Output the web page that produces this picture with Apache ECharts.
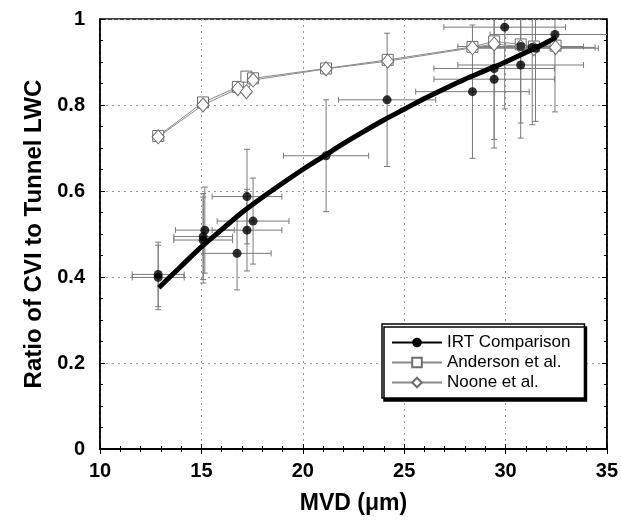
<!DOCTYPE html>
<html><head><meta charset="utf-8">
<script src="https://cdn.jsdelivr.net/npm/echarts@6/dist/echarts.min.js"></script>
<style>html,body{margin:0;padding:0;background:#fff}#c{width:621px;height:520px}</style>
</head><body><div id="c"></div>
<script>
// IRT comparison measurements (MVD, ratio) with error half-widths
const irtX    = [12.87, 12.87, 15.17, 15.09, 15.09, 16.76, 17.25, 17.25, 17.55, 21.15, 24.16, 28.37, 29.44, 29.44, 29.96, 30.75, 30.75, 31.32, 31.48, 32.44];
const irtY    = [0.406, 0.399, 0.509, 0.494, 0.486, 0.455, 0.587, 0.509, 0.530, 0.682, 0.812, 0.831, 0.885, 0.860, 0.981, 0.936, 0.893, 0.934, 0.932, 0.964];
const irtXErr = [1.28, 1.28, 1.45, 1.45, 1.45, 1.68, 1.72, 1.72, 1.77, 2.1, 2.4, 2.8, 2.97, 2.97, 3.0, 3.1, 3.1, 3.1, 3.1, 3.2];
const irtYErr = [0.075, 0.075, 0.10, 0.10, 0.10, 0.085, 0.11, 0.095, 0.10, 0.13, 0.155, 0.155, 0.185, 0.14, 0.19, 0.178, 0.17, 0.18, 0.17, 0.18];

// Fitted IRT curve
const fitX = [12.9, 14, 15, 16, 17, 18, 19, 20, 21, 22, 23, 24, 25, 26, 27, 28, 29, 30, 31, 32, 32.5];
const fitY = [0.375, 0.425, 0.47, 0.51, 0.55, 0.585, 0.618, 0.65, 0.68, 0.71, 0.738, 0.765, 0.79, 0.815, 0.838, 0.86, 0.88, 0.90, 0.922, 0.945, 0.958];

// Anderson et al.
const andersonX = [12.87, 15.08, 16.8, 17.22, 17.55, 21.15, 24.19, 28.37, 29.44, 30.75, 31.4, 32.47];
const andersonY = [0.728, 0.806, 0.842, 0.866, 0.862, 0.885, 0.905, 0.935, 0.948, 0.941, 0.936, 0.938];
// Noone et al.
const nooneX = [12.87, 15.08, 16.8, 17.22, 17.55, 21.15, 24.19, 28.37, 29.44, 30.75, 31.4, 32.47];
const nooneY = [0.726, 0.800, 0.838, 0.831, 0.858, 0.884, 0.902, 0.933, 0.942, 0.936, 0.931, 0.934];

const xTicks = [10, 15, 20, 25, 30, 35];
const yTicks = [0, 0.2, 0.4, 0.6, 0.8, 1];

const legendNames = ['IRT Comparison', 'Anderson et al.', 'Noone et al.'];
const xTitle = 'MVD (\u03bcm)';
const yTitle = 'Ratio of CVI to Tunnel LWC';

const FONT = "'Liberation Sans', Arial, Helvetica, sans-serif";
const zip = (a, b) => a.map((v, i) => [v, b[i]]);

const chart = echarts.init(document.getElementById('c'), null, {renderer: 'canvas'});

const axisCommon = {
  axisLine: {show: true, lineStyle: {color: '#000', width: 1.5}},
  axisTick: {show: true, inside: true, length: 5, lineStyle: {color: '#000', width: 1}},
  minorTick: {show: true, length: 3, lineStyle: {color: '#000', width: 1}},
};

const option = {
  animation: false,
  backgroundColor: '#fff',
  grid: {left: 100, right: 13, top: 19, bottom: 71, show: true, borderColor: '#000', borderWidth: 1.5, backgroundColor: 'transparent'},
  xAxis: [
    Object.assign({
      type: 'value', min: xTicks[0], max: xTicks[xTicks.length - 1], interval: 5, position: 'bottom',
      name: xTitle, nameLocation: 'middle', nameGap: 43,
      nameTextStyle: {fontFamily: FONT, fontWeight: 'bold', fontSize: 23, color: '#000'},
      axisLabel: {fontFamily: FONT, fontWeight: 'bold', fontSize: 20, color: '#000', margin: 12},
      splitLine: {show: true, lineStyle: {color: '#9a9a9a', type: [2, 4], width: 1}},
    }, axisCommon, {minorTick: Object.assign({}, axisCommon.minorTick, {splitNumber: 5})}),
    Object.assign({
      type: 'value', min: xTicks[0], max: xTicks[xTicks.length - 1], interval: 5, position: 'top',
      axisLabel: {show: false}, splitLine: {show: false},
    }, axisCommon, {minorTick: Object.assign({}, axisCommon.minorTick, {splitNumber: 5})})
  ],
  yAxis: [
    Object.assign({
      type: 'value', min: yTicks[0], max: yTicks[yTicks.length - 1], interval: 0.2, position: 'left',
      name: yTitle, nameLocation: 'middle', nameGap: 48,
      nameTextStyle: {fontFamily: FONT, fontWeight: 'bold', fontSize: 24, color: '#000'},
      axisLabel: {fontFamily: FONT, fontWeight: 'bold', fontSize: 20, color: '#000', margin: 15},
      splitLine: {show: true, lineStyle: {color: '#9a9a9a', type: [2, 4], width: 1}},
    }, axisCommon, {minorTick: Object.assign({}, axisCommon.minorTick, {splitNumber: 4})}),
    Object.assign({
      type: 'value', min: yTicks[0], max: yTicks[yTicks.length - 1], interval: 0.2, position: 'right',
      axisLabel: {show: false}, splitLine: {show: false},
    }, axisCommon, {minorTick: Object.assign({}, axisCommon.minorTick, {splitNumber: 4})})
  ],
  legend: {
    data: legendNames,
    orient: 'vertical', left: 382, top: 324,
    itemWidth: 50, itemHeight: 12, itemGap: 3,
    padding: [10, 14, 7, 9],
    backgroundColor: '#fff', borderColor: '#000', borderWidth: 1.5, borderRadius: 0,
    shadowColor: '#000', shadowOffsetX: 2, shadowOffsetY: 3, shadowBlur: 0,
    selectedMode: false,
    textStyle: {fontFamily: FONT, fontSize: 17, color: '#000'}
  },
  series: [
    {
      name: 'IRT error bars', type: 'custom', clip: true, z: 1,
      xAxisIndex: 0, yAxisIndex: 0,
      data: irtX.map((x, i) => [x, irtY[i], irtXErr[i], irtYErr[i]]),
      renderItem: function (params, api) {
        const x = api.value(0), y = api.value(1), ex = api.value(2), ey = api.value(3);
        const c = api.coord([x, y]);
        const l = api.coord([x - ex, y]), r = api.coord([x + ex, y]);
        const t = api.coord([x, y + ey]), b = api.coord([x, y - ey]);
        const cap = 3;
        const st = {stroke: '#7a7a7a', lineWidth: 1};
        const ln = (x1, y1, x2, y2) => ({type: 'line', shape: {x1, y1, x2, y2}, style: st});
        return {type: 'group', children: [
          ln(l[0], c[1], r[0], c[1]),
          ln(l[0], c[1] - cap, l[0], c[1] + cap),
          ln(r[0], c[1] - cap, r[0], c[1] + cap),
          ln(c[0], t[1], c[0], b[1]),
          ln(c[0] - cap, t[1], c[0] + cap, t[1]),
          ln(c[0] - cap, b[1], c[0] + cap, b[1])
        ]};
      }
    },
    {
      name: 'Anderson et al.', type: 'line', z: 2,
      data: zip(andersonX, andersonY),
      symbol: 'rect', symbolSize: 11, showSymbol: true,
      lineStyle: {color: '#8a8a8a', width: 1},
      itemStyle: {color: '#fff', borderColor: '#6e6e6e', borderWidth: 1}
    },
    {
      name: 'Noone et al.', type: 'line', z: 2,
      data: zip(nooneX, nooneY),
      symbol: 'diamond', symbolSize: [12, 14], showSymbol: true,
      lineStyle: {color: '#8a8a8a', width: 1},
      itemStyle: {color: '#fff', borderColor: '#6e6e6e', borderWidth: 1}
    },
    {
      name: 'IRT Comparison', type: 'line', z: 3,
      data: zip(fitX, fitY), smooth: 0.3,
      symbol: 'circle', showSymbol: false, symbolSize: 9,
      lineStyle: {color: '#000', width: 5},
      itemStyle: {color: '#000'}
    },
    {
      name: 'IRT data', type: 'scatter', z: 4,
      data: zip(irtX, irtY),
      symbol: 'circle', symbolSize: 9,
      itemStyle: {color: '#000'}
    }
  ]
};
chart.setOption(option);
</script>
</body></html>
